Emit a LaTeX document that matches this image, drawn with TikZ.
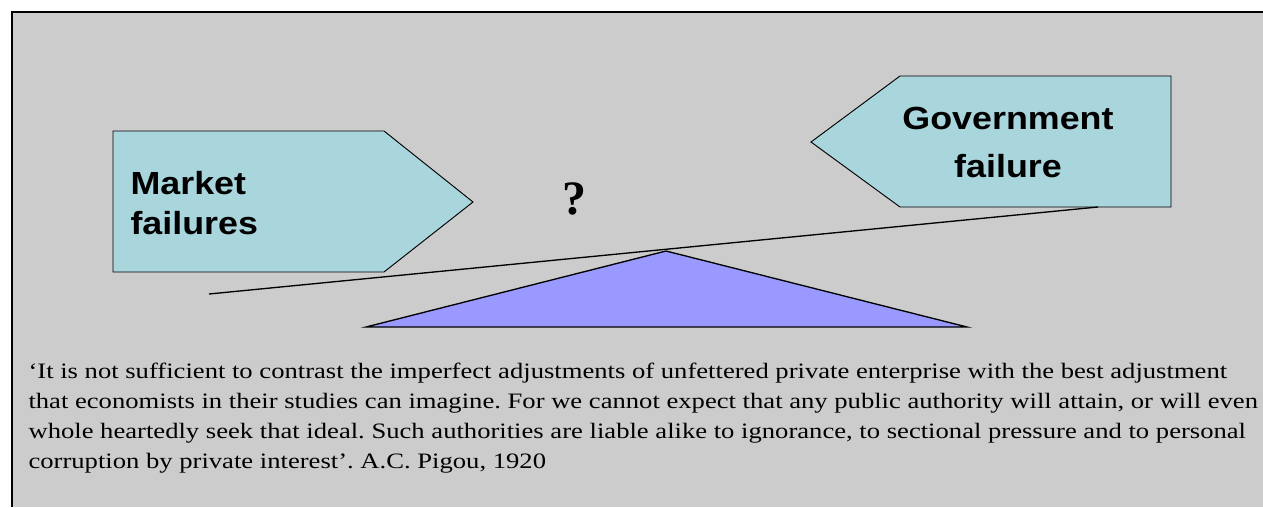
\documentclass[tikz,border=0pt]{standalone}
\usepackage{fontspec}
\setmainfont{Liberation Serif}
\newfontfamily\arialfont[FakeStretch=1.12]{Liberation Sans}
\newfontfamily\quotefont[FakeStretch=1.21,Ligatures=TeX]{Liberation Serif}
\definecolor{slidegray}{HTML}{CCCCCC}
\definecolor{boxblue}{RGB}{169,213,221}
\definecolor{wedgeblue}{HTML}{9999FF}
\frenchspacing

\begin{document}
\begin{tikzpicture}[x=0.75pt, y=-0.75pt, thick,
    arrowbox/.style={fill=boxblue, draw=black, line width=0.7pt, line join=miter},
    boxlabel/.style={font=\arialfont\bfseries, inner sep=0pt}]
  \useasboundingbox (0,0) rectangle (1263,507);

  % 背景
  \fill[slidegray] (12,12) rectangle (1263,507);
  \draw[line width=1.4pt] (12,507) -- (12,12) -- (1263,12);

  % 左边箭头: 市场失灵
  \draw[arrowbox] (113,131) -- (384,131) -- (473,202) -- (384,272) -- (113,272) -- cycle;
  \node[boxlabel, anchor=base west, align=left,
        font=\arialfont\bfseries\fontsize{24}{29.3}\selectfont] (mkt) at (130,234)
        {Market\\failures};

  % 右边箭头: 政府失灵
  \draw[arrowbox] (1171,76) -- (900,76) -- (811,142) -- (900,207) -- (1171,207) -- cycle;
  \node[boxlabel, anchor=base, align=center,
        font=\arialfont\bfseries\fontsize{24}{35.3}\selectfont] (gov) at (1008,177)
        {Government\\failure};

  % 问号
  \node[anchor=base, inner sep=0pt, font=\bfseries\fontsize{36}{40}\selectfont] (qmark) at (574,214) {?};

  % 杠杆和支点
  \draw[line width=1pt] (209,294) -- (1098,207);
  \draw[fill=wedgeblue, line width=1pt, line join=miter] (366,327) -- (666,251) -- (967,327) -- cycle;

  % 引文
  \node[anchor=base west, align=left, inner sep=0pt,
        font=\quotefont\fontsize{16.5}{22.5}\selectfont] (quote) at (28,468)
        {‘It is not sufficient to contrast the imperfect adjustments of unfettered private enterprise with the best adjustment\\
        that economists in their studies can imagine. For we cannot expect that any public authority will attain, or will even\\
        whole heartedly seek that ideal. Such authorities are liable alike to ignorance, to sectional pressure and to personal\\
        corruption by private interest’. A.C. Pigou, 1920};
\end{tikzpicture}
\end{document}
